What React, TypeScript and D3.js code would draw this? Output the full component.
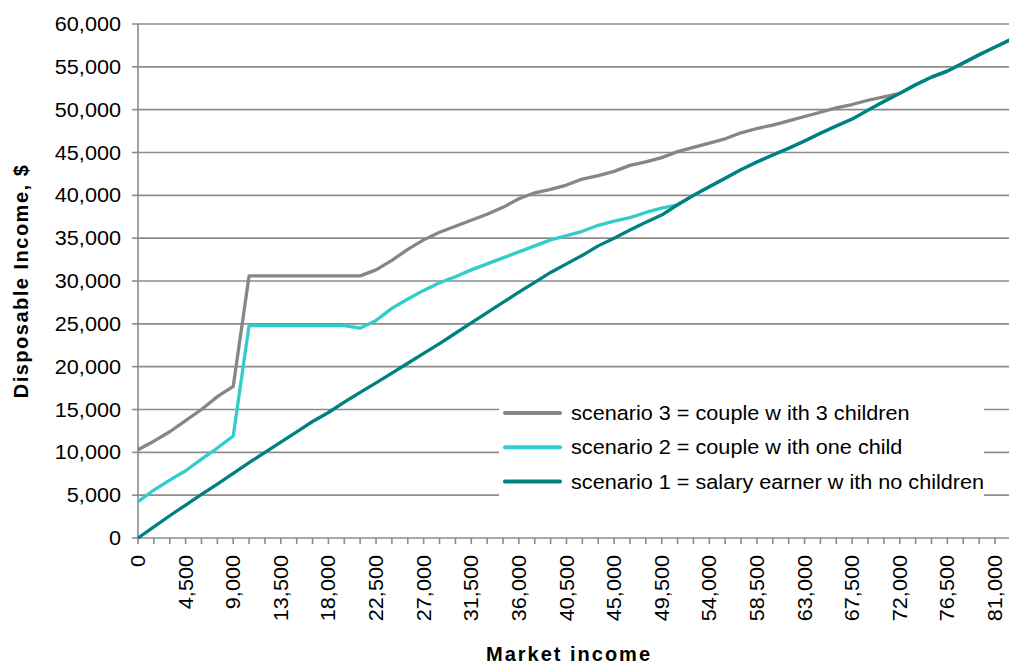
import React from "react";
import * as d3 from "d3";

const marketIncome: number[] = [
  0, 1500, 3000, 4500, 6000, 7500, 9000, 10500, 12000, 13500, 15000, 16500, 18000, 19500,
  21000, 22500, 24000, 25500, 27000, 28500, 30000, 31500, 33000, 34500, 36000, 37500, 39000,
  40500, 42000, 43500, 45000, 46500, 48000, 49500, 51000, 52500, 54000, 55500, 57000, 58500,
  60000, 61500, 63000, 64500, 66000, 67500, 69000, 70500, 72000, 73500, 75000, 76500, 78000,
  79500, 81000, 82500,
];

const scenario1: number[] = [
  0, 1300, 2600, 3850, 5100, 6300, 7550, 8800, 10000, 11200, 12400, 13600, 14650, 15850,
  17000, 18100, 19250, 20400, 21550, 22700, 23900, 25100, 26300, 27500, 28700, 29850, 31000,
  32000, 33000, 34100, 35000, 35950, 36850, 37700, 38900, 40000, 41000, 42000, 43000, 43900,
  44700, 45500, 46350, 47250, 48100, 48900, 49950, 50950, 51900, 52900, 53800, 54500, 55450,
  56400, 57300, 58200,
];

const scenario2: number[] = [
  4250, 5600, 6750, 7850, 9200, 10500, 11900, 24800, 24800, 24800, 24800, 24800, 24800, 24800,
  24500, 25400, 26800, 27900, 28900, 29800, 30500, 31300, 32000, 32700, 33400, 34100, 34800,
  35300, 35800, 36500, 37000, 37400, 38000, 38500, 38900, 40000, 41000, 42000, 43000, 43900,
  44700, 45500, 46350, 47250, 48100, 48900, 49950, 50950, 51900, 52900, 53800, 54500, 55450,
  56400, 57300, 58200,
];

const scenario3: number[] = [
  10300, 11300, 12400, 13700, 15000, 16500, 17700, 30600, 30600, 30600, 30600, 30600, 30600,
  30600, 30600, 31300, 32400, 33700, 34800, 35700, 36400, 37100, 37800, 38600, 39600, 40300,
  40700, 41200, 41900, 42300, 42800, 43500, 43900, 44400, 45100, 45600, 46100, 46600, 47300,
  47800, 48200, 48700, 49200, 49700, 50200, 50600, 51100, 51500, 51900, 52900, 53800, 54500,
  55450, 56400, 57300, 58200,
];

const yTicks: number[] = [0, 5000, 10000, 15000, 20000, 25000, 30000, 35000, 40000, 45000, 50000, 55000, 60000];
const xTickLabels: number[] = [0, 4500, 9000, 13500, 18000, 22500, 27000, 31500, 36000, 40500, 45000, 49500, 54000, 58500, 63000, 67500, 72000, 76500, 81000];

const seriesNames: string[] = [
  "scenario 3 = couple w ith 3 children",
  "scenario 2 = couple w ith one child",
  "scenario 1 = salary earner w ith no children",
];
const seriesColors: string[] = ["#868686", "#33CCCC", "#008080"];

const W = 1009;
const H = 664;
const FONT = "'Liberation Sans', Arial, sans-serif";
const SX = 1.11;

export default function App() {
  const x = d3.scaleLinear().domain([0, 82500]).range([138, 138 + 55 * 15.87]);
  const y = d3.scaleLinear().domain([0, 60000]).range([538, 24]);
  const fmt = d3.format(",");
  const line = d3
    .line<[number, number]>()
    .x((d) => x(d[0]))
    .y((d) => y(d[1]));
  const series = [scenario3, scenario2, scenario1];
  const gridColor = "#8c8c8c";

  return (
    <svg
      width={W}
      height={H}
      style={{ position: "absolute", left: 0, top: 0, background: "#fff" }}
      fontFamily={FONT}
    >
      <rect x={0} y={0} width={W} height={H} fill="#fff" />
      {yTicks.map((t) => (
        <g key={t}>
          {t > 0 && (
            <line x1={138} x2={W} y1={y(t)} y2={y(t)} stroke={gridColor} strokeWidth={1.6} />
          )}
          <line x1={132} x2={138} y1={y(t)} y2={y(t)} stroke={gridColor} strokeWidth={1.6} />
          <text
            transform={`translate(121,${y(t)}) scale(${SX},1)`}
            dy="0.36em"
            textAnchor="end"
            fontSize={19.5}
            fill="#000"
          >
            {fmt(t)}
          </text>
        </g>
      ))}
      {marketIncome.map((m) => (
        <line key={m} x1={x(m)} x2={x(m)} y1={538} y2={544} stroke={gridColor} strokeWidth={1.6} />
      ))}
      {xTickLabels.map((m) => (
        <text
          key={m}
          transform={`translate(${x(m)},555) rotate(-90) scale(${SX},1)`}
          dy="0.36em"
          textAnchor="end"
          fontSize={19.5}
          fill="#000"
        >
          {fmt(m)}
        </text>
      ))}
      <line x1={138} x2={138} y1={24} y2={538} stroke={gridColor} strokeWidth={1.6} />
      <line x1={138} x2={W} y1={538} y2={538} stroke={gridColor} strokeWidth={1.6} />
      {series.map((s, k) => (
        <path
          key={k}
          d={line(marketIncome.map((m, i) => [m, s[i]] as [number, number])) || ""}
          fill="none"
          stroke={seriesColors[k]}
          strokeWidth={3.3}
          strokeLinejoin="round"
        />
      ))}
      <rect x={499} y={398} width={485} height={106} fill="#fff" />
      {seriesNames.map((n, k) => (
        <g key={n} transform={`translate(0,${413 + k * 34.3})`}>
          <line x1={505} x2={560} y1={0} y2={0} stroke={seriesColors[k]} strokeWidth={4} strokeLinecap="round" />
          <text transform={`translate(571,0) scale(${SX},1)`} dy="0.36em" fontSize={19.5} fill="#000">
            {n}
          </text>
        </g>
      ))}
      <text
        transform="translate(28,281) rotate(-90)"
        textAnchor="middle"
        fontSize={20}
        fontWeight="bold"
        fill="#000"
        letterSpacing={1.5}
      >
        Disposable Income, $
      </text>
      <text x={569} y={661} textAnchor="middle" fontSize={20} fontWeight="bold" fill="#000" letterSpacing={2}>
        Market income
      </text>
    </svg>
  );
}
